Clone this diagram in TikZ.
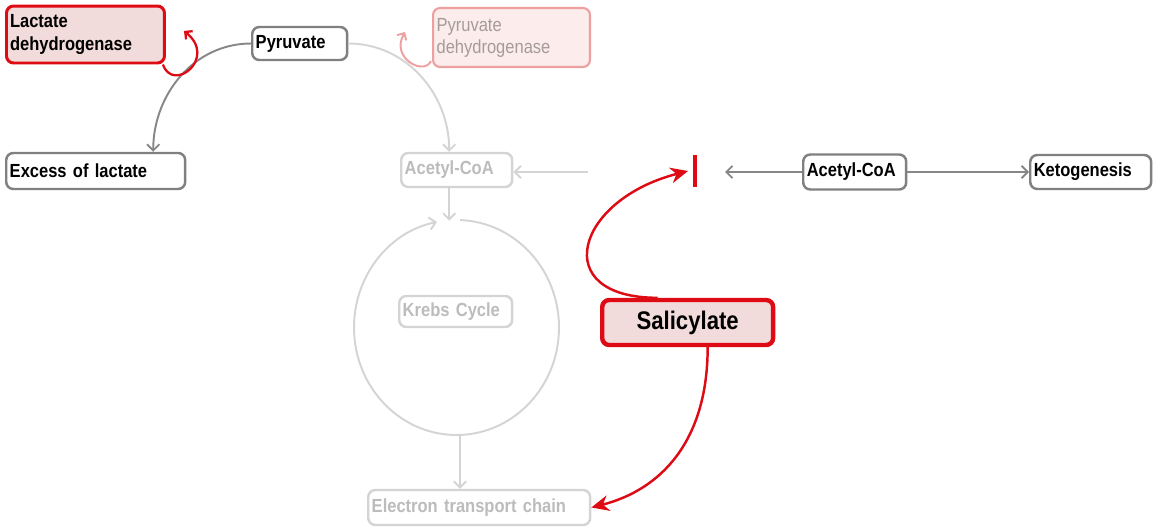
\documentclass[tikz,border=0pt]{standalone}
\usepackage{fontspec}
\setmainfont{Liberation Sans}[FakeStretch=0.87]
\usepackage{xcolor}
\usetikzlibrary{arrows.meta,calc,shapes.geometric}

\definecolor{boxgray}{RGB}{128,128,128}
\definecolor{linegray}{RGB}{135,135,135}
\definecolor{fadegray}{RGB}{212,212,212}
\definecolor{fadetext}{RGB}{188,188,188}
\definecolor{inhred}{RGB}{222,10,20}
\definecolor{pinkfill}{RGB}{242,220,219}
\definecolor{fadered}{RGB}{238,160,160}
\definecolor{fadepink}{RGB}{252,236,236}
\definecolor{fadepinktext}{RGB}{165,155,155}
\DeclareRobustCommand\tightsp{\spaceskip 0.17em\relax}

\tikzset{
  sz/.code 2 args={\pgfmathsetmacro\bw{#1*0.569-4}\pgfmathsetmacro\bh{#2*0.569}%
    \edef\tmp{\noexpand\tikzset{text width=\bw pt,minimum height=\bh pt}}\tmp},
  box/.style={draw=boxgray,line width=1.4pt,rounded corners=4pt,fill=white,
    inner xsep=2pt,inner ysep=1pt,anchor=west,align=left,
    font=\bfseries\fontsize{10.8}{13}\selectfont\tightsp},
  faded/.style={box,draw=fadegray,text=fadetext},
  enzyme/.style={box,draw=inhred,fill=pinkfill,line width=1.7pt},
  fenzyme/.style={box,draw=fadered,fill=fadepink,text=fadepinktext,line width=1.2pt,
    font=\fontsize{10.8}{12.5}\selectfont},
  salbox/.style={box,draw=inhred,fill=pinkfill,line width=2.5pt,align=center,
    font=\bfseries\fontsize{14.5}{16}\selectfont}
}

\begin{document}
\begin{tikzpicture}[x=0.02cm,y=0.02cm,
    garrow/.style={draw=linegray,line width=1.1pt,-{Straight Barb[length=3.5pt,width=7pt]}},
    farrow/.style={draw=fadegray,line width=1.1pt,-{Straight Barb[length=3.5pt,width=7pt]}},
    rarrow/.style={draw=inhred,line width=1.4pt,-{Stealth[length=10pt,width=9pt]}},
    rloop/.style={draw=inhred,line width=1.3pt,-{Straight Barb[length=3pt,width=6pt]}},
    floop/.style={draw=fadered,line width=1.1pt,-{Straight Barb[length=3pt,width=6pt]}}]
  \useasboundingbox (0,0) rectangle (1153,-528);

  \node[enzyme,sz={158}{57}] (ldh) at (5,-34.5) {Lactate\\dehydrogenase};
  \node[box,sz={95}{33}] (pyr) at (251,-43.5) {Pyruvate};
  \node[fenzyme,sz={157}{59}] (pdh) at (432,-37.5) {Pyruvate\\dehydrogenase};
  \node[box,sz={179}{36}] (lac) at (5,-171) {Excess of lactate};
  \node[faded,sz={111}{34}] (acoa1) at (400,-170) {Acetyl-CoA};
  \node[ellipse,minimum width=116.6pt,minimum height=122.3pt,inner sep=0] (ring) at (456.5,-327.5) {};
  \node[faded,sz={113}{31}] (krebs) at (398,-311.5) {Krebs Cycle};
  \node[faded,sz={222}{35}] (etc) at (367,-507.5) {Electron transport chain};
  \node[salbox,sz={171}{45}] (sal) at (600,-322.5) {Salicylate};
  \node[box,sz={103}{35}] (acoa2) at (802,-172) {Acetyl-CoA};
  \node[box,sz={121}{34}] (keto) at (1029,-172) {Ketogenesis};
  \coordinate (block) at (695,-171);
  \coordinate (feed) at (588,-172);
  \coordinate (ldhtip) at (184,-31);
  \coordinate (pdhtip) at (405,-32);

  \draw[garrow] (pyr.west) to[out=180,in=90] ($(lac.north)+(57.5,0)$);
  \draw[farrow] (pyr.east) to[out=0,in=90] ($(acoa1.north)+(-7.5,0)$);
  \draw[farrow] ($(acoa1.south)+(-7.5,0)$) -- ($(acoa1.south |- ring.north)+(-7.5,-1)$);
  \draw[farrow] ($(ring.center)+(88:102.5 and 107.5)$)
    arc[start angle=88,end angle=-259,x radius=102.5,y radius=107.5];
  \draw[farrow] ($(ring.south)+(3.5,0)$) -- ($(ring.south |- etc.north)+(3.5,0)$);
  \draw[farrow] (feed) -- (acoa1.east |- feed);

  \draw[rloop] ($(ldh.south east)+(-3,0)$) .. controls +(10,-29) and (218,-58) .. (ldhtip);
  \draw[floop] ($(pdh.south west)+(-1,7)$) .. controls +(-7,-15) and (390,-58) .. (pdhtip);

  \draw[inhred,line width=2.2pt] ($(block)+(0,16)$) -- ($(block)+(0,-16)$);
  \draw[garrow] (acoa2.west) -- ($(block)+(30,-1)$);
  \draw[garrow] (acoa2.east) -- (keto.west);
  \draw[rarrow] ($(sal.north)+(-30,0)$) .. controls +(-110,0) and (575,-200) .. ($(block)+(-7,0)$);
  \draw[rarrow] ($(sal.south)+(20,0)$) .. controls +(0,-95) and (660,-490) .. (etc.east);
\end{tikzpicture}
\end{document}
